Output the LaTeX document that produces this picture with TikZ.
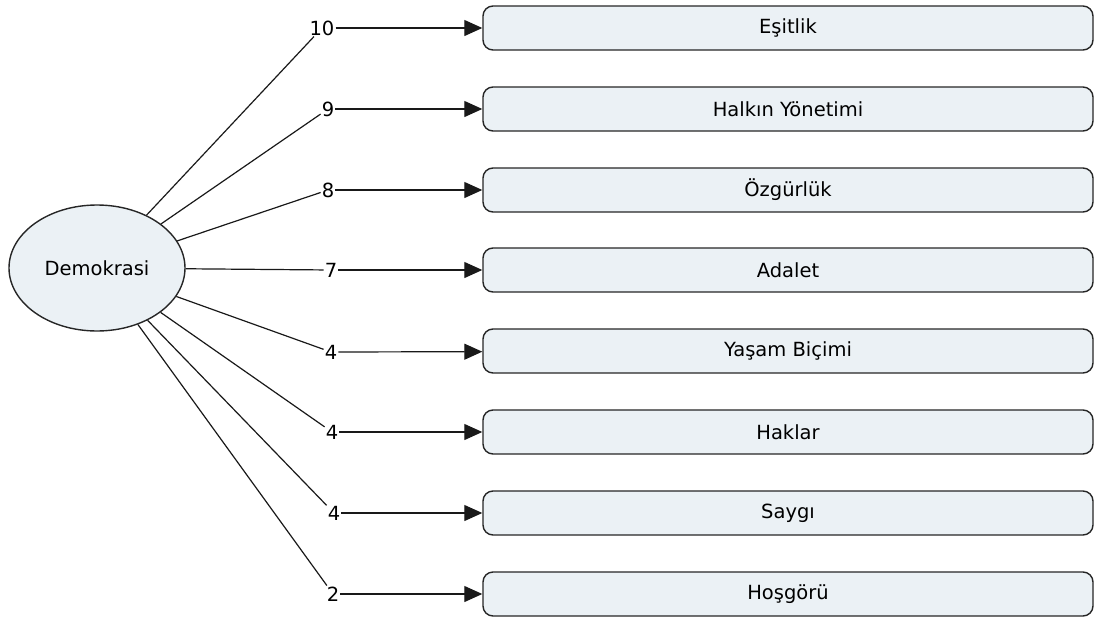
\documentclass[tikz,border=0pt]{standalone}
\usepackage{fontspec}
\setmainfont{DejaVu Sans}
\usetikzlibrary{arrows.meta,shapes.geometric}
\definecolor{boxfill}{HTML}{EBF1F5}
\tikzset{
  konu/.style={draw=black!85, line width=1.4pt, fill=boxfill, rounded corners=10pt,
    minimum width=610pt, minimum height=44pt, inner sep=0pt},
  sayi/.style={inner sep=1pt},
  bag/.style={line width=1.2pt, draw=black!90},
  ok/.style={bag, -{Triangle[length=18pt, width=16pt]}}
}
\begin{document}
\begin{tikzpicture}[x=1pt, y=-1pt, font=\fontsize{19.5}{23}\selectfont]
    \useasboundingbox (0,0) rectangle (1101,624);
    \node[draw=black!85, line width=1.4pt, fill=boxfill, ellipse, minimum width=176pt, minimum height=126pt, inner sep=0pt] (dem) at (97,268) {Demokrasi};
    \node[konu] (b1) at (788,28) {Eşitlik};
    \node[konu] (b2) at (788,109) {Halkın Yönetimi};
    \node[konu] (b3) at (788,190) {Özgürlük};
    \node[konu] (b4) at (788,270) {Adalet};
    \node[konu] (b5) at (788,351) {Yaşam Biçimi};
    \node[konu] (b6) at (788,432) {Haklar};
    \node[konu] (b7) at (788,513) {Saygı};
    \node[konu] (b8) at (788,594) {Hoşgörü};
    \node[sayi] (n1) at (322,28) {10};
    \node[sayi] (n2) at (328,109) {9};
    \node[sayi] (n3) at (328,190) {8};
    \node[sayi] (n4) at (331,270) {7};
    \node[sayi] (n5) at (331,352) {4};
    \node[sayi] (n6) at (332,432) {4};
    \node[sayi] (n7) at (334,513) {4};
    \node[sayi] (n8) at (333,594) {2};
    \draw[bag] (dem) -- (n1);
    \draw[bag] (dem) -- (n2);
    \draw[bag] (dem) -- (n3);
    \draw[bag] (dem) -- (n4);
    \draw[bag] (dem) -- (n5);
    \draw[bag] (dem) -- (n6);
    \draw[bag] (dem) -- (n7);
    \draw[bag] (dem) -- (n8);
    \draw[ok] (n1) -- (b1);
    \draw[ok] (n2) -- (b2);
    \draw[ok] (n3) -- (b3);
    \draw[ok] (n4) -- (b4);
    \draw[ok] (n5) -- (b5);
    \draw[ok] (n6) -- (b6);
    \draw[ok] (n7) -- (b7);
    \draw[ok] (n8) -- (b8);
\end{tikzpicture}
\end{document}
